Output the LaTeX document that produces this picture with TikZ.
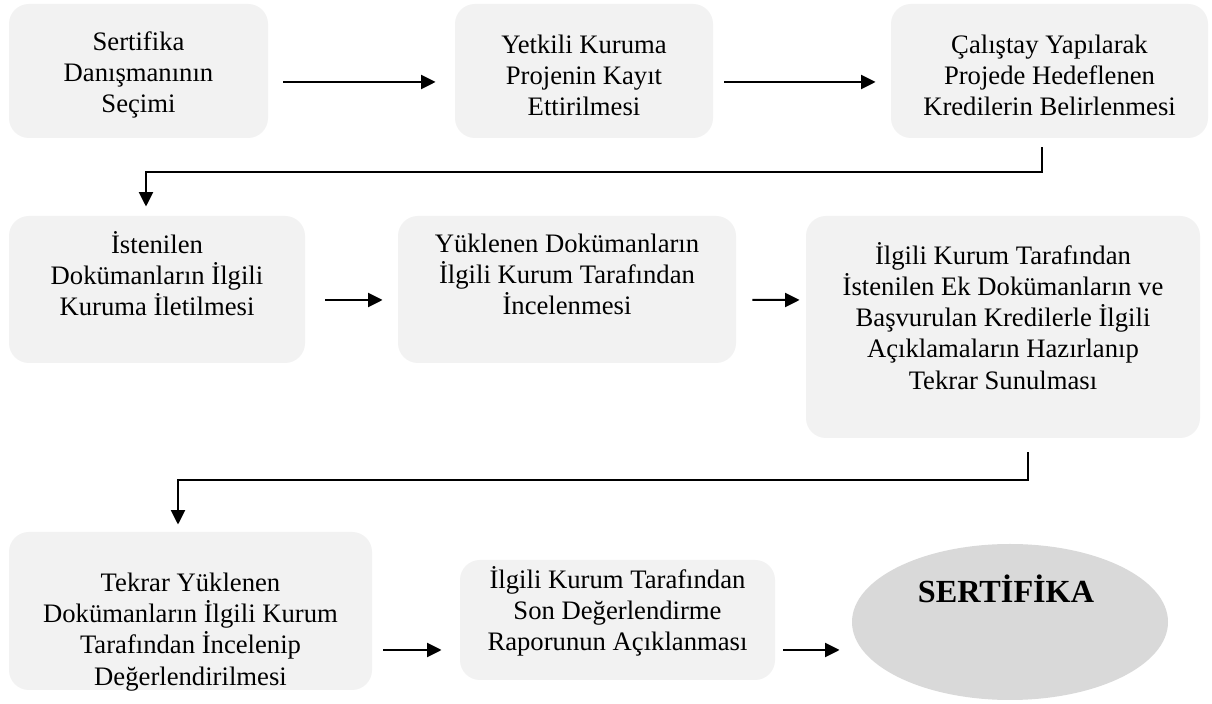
\documentclass[tikz,border=0pt]{standalone}
\usepackage{fontspec}
\setmainfont{Liberation Serif}
\usetikzlibrary{arrows.meta,calc,shapes.geometric}
\definecolor{boxfill}{HTML}{F2F2F2}
\definecolor{ovalfill}{HTML}{D9D9D9}
\begin{document}
\begin{tikzpicture}[x=0.45pt,y=-0.45pt,
  stepbox/.style={draw=none,fill=boxfill,rounded corners=9pt,inner sep=0pt},
  lbl/.style={align=center,font=\fontsize{12}{14}\selectfont,inner sep=0pt},
  arr/.style={line width=0.9pt,-{Triangle[length=6.5pt,width=6.3pt]}}]
\useasboundingbox (0,0) rectangle (1212,704);
\fill[white] (0,0) rectangle (1212,704);

% process boxes
\node[stepbox,minimum width=259*0.45pt,minimum height=134*0.45pt] (b1) at (138.5,71) {};
\node[stepbox,minimum width=258*0.45pt,minimum height=134*0.45pt] (b2) at (584,71) {};
\node[stepbox,minimum width=317*0.45pt,minimum height=134*0.45pt] (b3) at (1049.5,71) {};
\node[stepbox,minimum width=296*0.45pt,minimum height=147*0.45pt] (b4) at (157,289.5) {};
\node[stepbox,minimum width=338*0.45pt,minimum height=147*0.45pt] (b5) at (567,289.5) {};
\node[stepbox,minimum width=394*0.45pt,minimum height=222*0.45pt] (b6) at (1003,327) {};
\node[stepbox,minimum width=363*0.45pt,minimum height=158*0.45pt] (b7) at (190.5,611) {};
\node[stepbox,minimum width=315*0.45pt,minimum height=120*0.45pt] (b8) at (617.5,620) {};
\node[ellipse,fill=ovalfill,minimum width=316*0.45pt,minimum height=156*0.45pt,inner sep=0pt] (e1) at (1010,622) {};

% box texts
\node[lbl] (t1) at (138.5,75) {Sertifika\\Danışmanının\\Seçimi};
\node[lbl] (t2) at (584,75) {Yetkili Kuruma\\Projenin Kayıt\\Ettirilmesi};
\node[lbl] (t3) at (1049.5,75) {Çalıştay Yapılarak\\Projede Hedeflenen\\Kredilerin Belirlenmesi};
\node[lbl] (t4) at (157,274) {İstenilen\\Dokümanların İlgili\\Kuruma İletilmesi};
\node[lbl] (t5) at (567,274) {Yüklenen Dokümanların\\İlgili Kurum Tarafından\\İncelenmesi};
\node[lbl] (t6) at (1003,316) {İlgili Kurum Tarafından\\İstenilen Ek Dokümanların ve\\Başvurulan Kredilerle İlgili\\Açıklamaların Hazırlanıp\\Tekrar Sunulması};
\node[lbl] (t7) at (190.5,632) {Tekrar Yüklenen\\Dokümanların İlgili Kurum\\Tarafından İncelenip\\Değerlendirilmesi};
\node[lbl] (t8) at (617.5,611) {İlgili Kurum Tarafından\\Son Değerlendirme\\Raporunun Açıklanması};
\node[inner sep=0pt,font=\fontsize{14.5}{17}\selectfont\bfseries] (t9) at (1006,589) {SERTİFİKA};

% straight arrows between neighbouring steps
\draw[arr] ($(b1.east)+(15,11)$) -- ($(b2.west)+(-19,11)$);
\draw[arr] ($(b2.east)+(11,11)$) -- ($(b3.west)+(-15,11)$);
\draw[arr] ($(b4.east)+(20,10.5)$) -- ($(b5.west)+(-15,10.5)$);
\draw[arr] ($(b5.east)+(16,10.5)$) -- ($(b6.west)+(-6,-27)$);
\draw[arr] ($(b7.east)+(11,39)$) -- ($(b8.west)+(-18,30)$);
\draw[arr] ($(b8.east)+(8,30)$) -- ($(e1.west)+(-12,28)$);

% elbow connectors to the next row
\coordinate (k1) at ($(b3.south)+(-7.5,9)$);
\coordinate (k2) at ($(b6.south)+(25,14)$);
\draw[arr] (k1) -- ++(0,25) -| ($(b4.north)+(-11,-9)$);
\draw[arr] (k2) -- ++(0,28) -| ($(b7.north)+(-12.5,-7)$);
\end{tikzpicture}
\end{document}
